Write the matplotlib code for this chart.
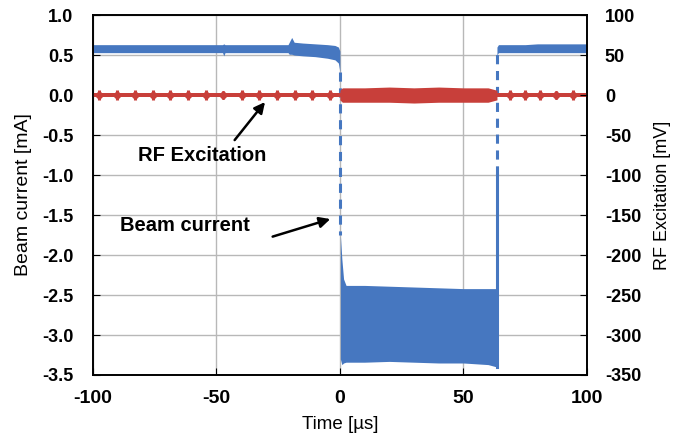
import numpy as np
import matplotlib.pyplot as plt

plt.rcParams['font.family'] = ['Liberation Sans', 'DejaVu Sans']
plt.rcParams['axes.unicode_minus'] = False

BLUE = '#4677c0'
RED = '#c83f3a'

# Beam current envelope (mA), before the RF pulse
pre_t = [-100, -60, -47.5, -47, -46.5, -21, -20.5, -19.5, -18.5, -15, -10, -5, -2, -0.6, 0]
pre_hi = [0.63, 0.63, 0.63, 0.64, 0.63, 0.63, 0.66, 0.72, 0.66, 0.65, 0.64, 0.63, 0.62, 0.60, 0.55]
pre_lo = [0.53, 0.53, 0.53, 0.49, 0.53, 0.53, 0.51, 0.51, 0.50, 0.49, 0.48, 0.46, 0.44, 0.40, 0.29]

# Beam current envelope during excitation
on_t = [0.2, 0.8, 1.5, 2.5, 10, 20, 30, 40, 50, 60, 63.6]
on_hi = [-1.75, -2.05, -2.30, -2.38, -2.38, -2.39, -2.40, -2.41, -2.42, -2.42, -2.42]
on_lo = [-3.30, -3.37, -3.35, -3.34, -3.34, -3.33, -3.34, -3.35, -3.35, -3.37, -3.40]

# Beam current envelope after excitation
post_t = [63.6, 64.2, 75, 80, 85, 90, 95, 100]
post_hi = [0.60, 0.63, 0.63, 0.64, 0.64, 0.64, 0.64, 0.64]
post_lo = [0.50, 0.53, 0.53, 0.53, 0.53, 0.53, 0.53, 0.53]

# Sparse samples across the edges
fall_y = [0.29, -1.75]
rise_solid_y = [-3.40, -1.00]
rise_dash_y = [-1.00, 0.53]
edge_t = [0.0, 63.6]

# RF excitation (mV): baseline, burst envelope and periodic spikes
rf_base_t = [-100, 100]
rf_base_hi = [2.5, 2.5]
rf_base_lo = [-2.5, -2.5]
burst_t = [0, 1, 10, 20, 30, 40, 50, 60, 63.6]
burst_hi = [6, 9, 9, 10, 9, 10, 9, 9, 6]
burst_lo = [-6, -9, -9, -9, -10, -9, -9, -9, -6]
spike_t = [-97.6, -90.4, -83.0, -75.8, -68.8, -61.4, -54.3, -47.2, -39.8,
           -32.7, -25.6, -18.2, -11.1, -4.0, 68.8, 74.9, 81.0, 87.7, 94.5]
spike_amp = [6, 6, 6, 6, 6, 6, 6, 5, 6, 6, 6, 6, 6, 6, 6, 6, 6, 5, 6]

fig = plt.figure(figsize=(6.88, 4.43), dpi=100)
ax = fig.add_axes([0.135, 0.1535, 0.718, 0.8125])
ax2 = ax.twinx()

# beam current
ax.fill_between(pre_t, pre_lo, pre_hi, color=BLUE, lw=0)
ax.fill_between(on_t, on_lo, on_hi, color=BLUE, lw=0)
ax.fill_between(post_t, post_lo, post_hi, color=BLUE, lw=0)
ax.plot([edge_t[0]] * 2, fall_y, color=BLUE, lw=2.2, ls=(0, (3, 2.2)))
ax.plot([edge_t[1]] * 2, rise_solid_y, color=BLUE, lw=2.2)
ax.plot([edge_t[1]] * 2, rise_dash_y, color=BLUE, lw=2.2, ls=(0, (3, 2.2)))

# RF excitation
ax2.fill_between(rf_base_t, rf_base_lo, rf_base_hi, color=RED, lw=0)
ax2.fill_between(burst_t, burst_lo, burst_hi, color=RED, lw=0)
ax2.vlines(spike_t, [-a for a in spike_amp], spike_amp, color=RED, lw=2.2)
ax2.plot(spike_t, [0] * len(spike_t), 'D', color=RED, ms=4)

ax.set_xlim(-100, 100)
ax.set_ylim(-3.5, 1.0)
ax2.set_ylim(-350, 100)
ax.set_xticks([-100, -50, 0, 50, 100])
ax.set_yticks(np.arange(-3.5, 1.01, 0.5))
ax2.set_yticks(np.arange(-350, 101, 50))
ax.set_yticklabels([f'{v:.1f}' for v in np.arange(-3.5, 1.01, 0.5)])

ax.grid(True, color='#b8b8b8', lw=1)
ax.set_axisbelow(True)
ax.tick_params(axis='x', direction='in', length=5, labelsize=14, pad=11)
ax.tick_params(axis='y', direction='in', length=5, labelsize=13, pad=14)
ax2.tick_params(axis='y', direction='in', length=5, labelsize=13, pad=13)
for a in (ax, ax2):
    for lab in a.get_xticklabels() + a.get_yticklabels():
        lab.set_fontweight('bold')
    for s in a.spines.values():
        s.set_color('black')
        s.set_linewidth(1.2)

ax.set_xlabel('Time [µs]', fontsize=13.5, labelpad=6)
ax.set_ylabel('Beam current [mA]', fontsize=14, labelpad=7)
ax2.set_ylabel('RF Excitation [mV]', fontsize=13, labelpad=9)

ax.annotate('', xy=(-29.6, -0.06), xytext=(-43.3, -0.59),
            arrowprops=dict(arrowstyle='-|>', color='black', lw=1.8, mutation_scale=16))
ax.text(-55.9, -0.75, 'RF Excitation', fontsize=14.5, fontweight='bold',
        ha='center', va='center')
ax.annotate('', xy=(-2.8, -1.54), xytext=(-28.3, -1.78),
            arrowprops=dict(arrowstyle='-|>', color='black', lw=1.8, mutation_scale=16))
ax.text(-62.8, -1.625, 'Beam current', fontsize=14.5, fontweight='bold',
        ha='center', va='center')

fig.savefig('out.png', dpi=100)
